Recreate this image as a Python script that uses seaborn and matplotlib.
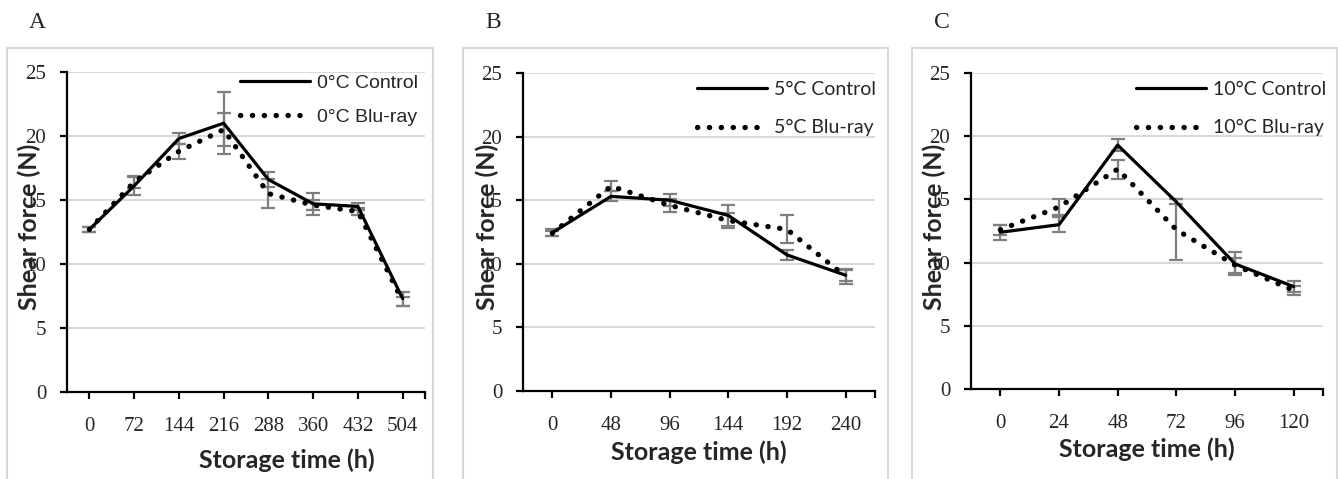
import numpy as np
import pandas as pd
import matplotlib
matplotlib.use("Agg")
import matplotlib.pyplot as plt
import seaborn as sns
from matplotlib.patches import Rectangle

sns.set_style("white")

# ---------------- data ----------------
cats_a = ["0", "72", "144", "216", "288", "360", "432", "504"]
ctrl_a = [12.7, 16.1, 19.8, 21.0, 16.6, 14.7, 14.5, 7.3]
ctrl_a_err = [0.2, 0.7, 0.45, 2.4, 0.6, 0.85, 0.25, 0.55]
blu_a = [12.7, 16.4, 18.8, 20.5, 15.5, 14.6, 14.1, 7.1]
blu_a_err = [0.2, 0.5, 0.6, 1.3, 1.15, 0.4, 0.3, 0.35]

cats_b = ["0", "48", "96", "144", "192", "240"]
ctrl_b = [12.45, 15.3, 15.0, 13.8, 10.7, 9.1]
ctrl_b_err = [0.3, 0.4, 0.45, 0.8, 0.4, 0.45]
blu_b = [12.4, 16.1, 14.6, 13.4, 12.7, 9.0]
blu_b_err = [0.2, 0.4, 0.5, 0.6, 1.1, 0.6]

cats_c = ["0", "24", "48", "72", "96", "120"]
ctrl_c = [12.4, 13.0, 19.3, 14.8, 9.9, 8.1]
ctrl_c_err = [0.6, 0.6, 0.5, 0.2, 0.9, 0.45]
blu_c = [12.6, 14.4, 17.4, 12.6, 9.8, 7.8]
blu_c_err = [0.4, 0.6, 0.75, 2.4, 0.6, 0.35]

labels_a = ["0°C Control", "0°C Blu-ray"]
labels_b = ["5°C Control", "5°C Blu-ray"]
labels_c = ["10°C Control", "10°C Blu-ray"]
panel_letters = ["A", "B", "C"]
yticks = [0, 5, 10, 15, 20, 25]

W, H = 1338, 479
fig = plt.figure(figsize=(W / 100, H / 100), dpi=100)

def fx(px):
    return px / W

def fy(py):
    return 1 - py / H

SERIF = "Liberation Serif"
SANS_B = "Lato"

panels = [
    dict(cats=cats_a, c=ctrl_a, ce=ctrl_a_err, b=blu_a, be=blu_a_err, labels=labels_a,
         box=(67, 72, 425, 392), frame=(7, 48, 433), letter=(37, 23),
         ylab=(29, 227), xlab=(287, 460), leg=(418, 74), legfont="Liberation Sans", legsp=0.85),
    dict(cats=cats_b, c=ctrl_b, ce=ctrl_b_err, b=blu_b, be=blu_b_err, labels=labels_b,
         box=(523, 73, 875, 391), frame=(463, 48, 888), letter=(493, 23),
         ylab=(487, 227), xlab=(699, 452), leg=(876, 81), legfont="Lato", legsp=1.1),
    dict(cats=cats_c, c=ctrl_c, ce=ctrl_c_err, b=blu_c, be=blu_c_err, labels=labels_c,
         box=(971, 73, 1323, 389), frame=(912, 48, 1337), letter=(942, 23),
         ylab=(934, 227), xlab=(1147, 449), leg=(1326, 81), legfont="Lato", legsp=1.1),
]

for i, p in enumerate(panels):
    l, t, r, b = p["box"]
    ax = fig.add_axes([fx(l), fy(b), fx(r - l), (b - t) / H])
    n = len(p["cats"])
    pos = np.arange(n)
    df = pd.DataFrame({"time": pos, "control": p["c"], "blu": p["b"]})

    ax.errorbar(pos, p["c"], yerr=p["ce"], fmt="none", ecolor="#7f7f7f",
                elinewidth=1.6, capsize=5, capthick=1.6, zorder=2)
    ax.errorbar(pos, p["b"], yerr=p["be"], fmt="none", ecolor="#7f7f7f",
                elinewidth=1.6, capsize=5, capthick=1.6, zorder=2)

    sns.lineplot(data=df, x="time", y="control", ax=ax, color="black", lw=2.3,
                 label=p["labels"][0], zorder=3)
    sns.lineplot(data=df, x="time", y="blu", ax=ax, color="black", lw=3.8,
                 linestyle=(0, (0.05, 2.2)), dash_capstyle="round",
                 label=p["labels"][1], zorder=3)

    ax.set_xlim(-0.5, n - 0.5)
    ax.set_ylim(0, 25)
    ax.set_yticks(yticks)
    ax.set_xticks(pos)
    ax.set_xticklabels(p["cats"])
    ax.set_xticks([n - 0.5], minor=True)
    ax.grid(axis="y", color="#d9d9d9", lw=1.4, zorder=0)
    ax.grid(axis="x", visible=False)
    ax.set_axisbelow(True)
    for s in ["top", "right"]:
        ax.spines[s].set_visible(False)
    for s in ["left", "bottom"]:
        ax.spines[s].set_color("black")
        ax.spines[s].set_linewidth(1.6)
    ax.tick_params(axis="both", which="both", direction="out", length=5, width=1.6,
                   color="black", labelcolor="#262626")
    ax.tick_params(axis="y", left=True, pad=10)
    ax.tick_params(axis="x", bottom=True, pad=13)
    ax.tick_params(axis="x", which="minor", bottom=True, length=5)
    for lab in ax.get_xticklabels() + ax.get_yticklabels():
        lab.set_fontfamily(SERIF)
        lab.set_fontsize(15)

    ax.set_ylabel("Shear force (N)", fontfamily=SANS_B, fontweight="bold",
                  fontsize=18, va="center", ha="center")
    ax.yaxis.set_label_coords(fx(p["ylab"][0]), fy(p["ylab"][1]), transform=fig.transFigure)
    ax.set_xlabel("Storage time (h)", fontfamily=SANS_B, fontweight="bold",
                  fontsize=18, va="center", ha="center")
    ax.xaxis.set_label_coords(fx(p["xlab"][0]), fy(p["xlab"][1]), transform=fig.transFigure)

    ax.legend(loc="upper right", bbox_to_anchor=(fx(p["leg"][0]), fy(p["leg"][1])),
              bbox_transform=fig.transFigure, frameon=False, borderpad=0,
              borderaxespad=0, handlelength=3.6, handletextpad=0.35,
              labelspacing=p["legsp"],
              prop={"family": p["legfont"], "size": 14})

    fl, ft, fr = p["frame"]
    fig.patches.append(Rectangle((fx(fl), fy(H + 5)), fx(fr - fl), (H + 5 - ft) / H,
                                 transform=fig.transFigure, fill=False,
                                 edgecolor="#d9d9d9", lw=1.5, zorder=0))
    fig.text(fx(p["letter"][0]), fy(p["letter"][1]), panel_letters[i],
             fontfamily=SERIF, fontsize=17, ha="center", va="center")

fig.savefig("out.png", dpi=100)
